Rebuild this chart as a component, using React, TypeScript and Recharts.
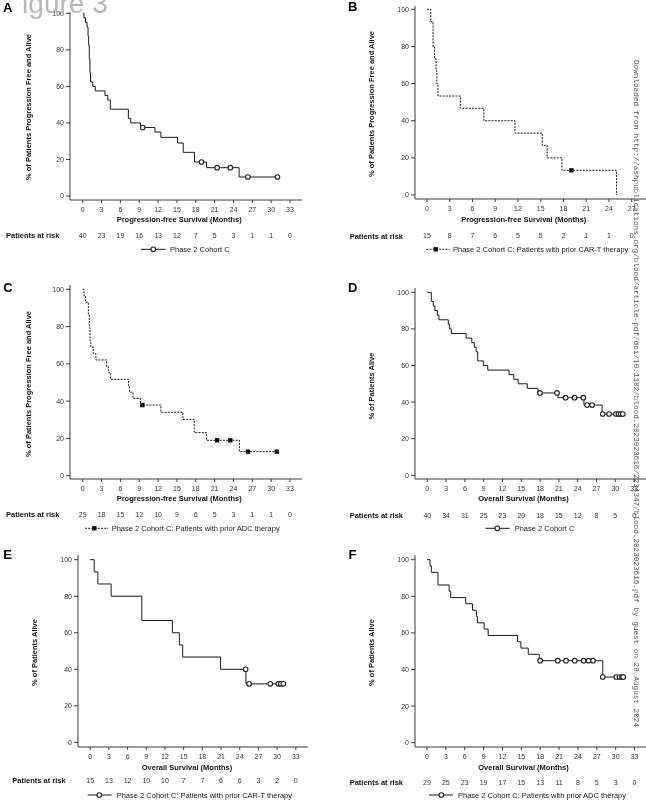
import React from 'react';
import { ComposedChart, Line, Scatter, XAxis, YAxis } from 'recharts';

// ---------- tick labels ----------
const monthTicks = [0, 3, 6, 9, 12, 15, 18, 21, 24, 27, 30, 33];
const monthTicksB = [0, 3, 6, 9, 12, 15, 18, 21, 24, 27];
const pctTicks = [0, 20, 40, 60, 80, 100];

// ---------- patients at risk ----------
const riskA = [40, 23, 19, 16, 13, 12, 7, 5, 3, 1, 1, 0];
const riskB = [15, 8, 7, 6, 5, 5, 2, 1, 1, 0];
const riskC = [29, 18, 15, 12, 10, 9, 6, 5, 3, 1, 1, 0];
const riskD = [40, 34, 31, 25, 23, 20, 18, 15, 12, 8, 5, 0];
const riskE = [15, 13, 12, 10, 10, 7, 7, 6, 6, 3, 2, 0];
const riskF = [29, 25, 23, 19, 17, 15, 13, 11, 8, 5, 3, 0];

// ---------- A: PFS, Phase 2 Cohort C ----------
const aTimes = [0, 0.2, 0.45, 0.7, 0.85, 0.95, 1.05, 1.15, 1.25, 1.6, 2.0, 3.55, 4.0, 4.4, 7.27, 7.65, 9.2, 11.5, 12.45, 15.1, 16.0, 17.8, 19.7, 24.9, 31.0];
const aSurv = [100, 97.5, 95, 92.5, 87.5, 82.5, 75, 67.5, 62.5, 60, 57.5, 55, 52.5, 47.5, 42.5, 40, 37.5, 35, 32.1, 29.0, 23.9, 18.6, 15.5, 10.4, 10.4];
const aCensTimes = [9.55, 18.9, 21.4, 23.5, 26.3, 31.0];
const aCensSurv = [37.5, 18.6, 15.5, 15.5, 10.4, 10.4];

// ---------- B: PFS, prior CAR-T ----------
const bTimes = [0, 0.5, 0.8, 1.0, 1.2, 1.3, 1.45, 4.4, 7.5, 11.6, 15.2, 15.85, 17.8, 25.0];
const bSurv = [100, 93.3, 80, 73.3, 66.7, 60, 53.3, 46.7, 40, 33.3, 26.7, 20, 13.3, 0];
const bCensTimes = [19.05];
const bCensSurv = [13.3];

// ---------- C: PFS, prior ADC ----------
const cTimes = [0, 0.2, 0.45, 0.9, 1.05, 1.17, 1.3, 1.7, 2.1, 3.8, 4.1, 4.45, 7.3, 7.45, 8.0, 9.2, 12.45, 15.95, 17.75, 19.7, 24.95, 30.9];
const cSurv = [100, 96.6, 93.1, 86.2, 79.3, 72.4, 69.0, 65.5, 62.1, 58.6, 55.2, 51.7, 48.3, 44.8, 41.4, 37.9, 34.0, 30.2, 23.1, 19.0, 12.9, 12.9];
const cCensTimes = [9.5, 21.4, 23.5, 26.3, 30.9];
const cCensSurv = [37.9, 19.0, 19.0, 12.9, 12.9];

// ---------- D: OS, Phase 2 Cohort C ----------
const dTimes = [0, 0.64, 0.96, 1.22, 1.6, 1.86, 3.35, 3.56, 3.83, 6.2, 7.1, 7.5, 7.8, 8.05, 8.95, 9.65, 13.05, 13.8, 14.5, 15.96, 17.66, 20.85, 25.0, 27.9, 31.2];
const dSurv = [100, 95, 92.5, 90, 87.5, 85, 82.5, 80, 77.5, 75, 72.5, 70, 67.5, 62.5, 60, 57.5, 55, 52.5, 50, 47.5, 45, 42.4, 38.4, 33.5, 33.5];
const dCensTimes = [17.98, 20.7, 22.07, 23.5, 24.9, 25.5, 26.3, 28.0, 29.0, 30.1, 30.5, 30.85, 31.2];
const dCensSurv = [45, 45, 42.4, 42.4, 42.4, 38.4, 38.4, 33.5, 33.5, 33.5, 33.5, 33.5, 33.5];

// ---------- E: OS, prior CAR-T ----------
const eTimes = [0, 0.64, 1.23, 3.36, 8.28, 13.19, 14.31, 14.84, 20.93, 25.0, 31.0];
const eSurv = [100, 93.3, 86.7, 80, 66.7, 60, 53.3, 46.7, 40, 32, 32];
const eCensTimes = [24.95, 25.5, 28.9, 30.2, 30.6, 31.0];
const eCensSurv = [40, 32, 32, 32, 32, 32];

// ---------- F: OS, prior ADC ----------
const fTimes = [0, 0.48, 0.69, 1.75, 3.51, 3.77, 6.16, 7.23, 7.86, 8.02, 9.09, 9.72, 14.4, 14.93, 16.1, 17.85, 27.95, 31.2];
const fSurv = [100, 96.6, 93.1, 86.2, 82.8, 79.3, 75.9, 72.4, 69.0, 65.5, 62.1, 58.6, 55.2, 51.7, 48.3, 44.8, 35.9, 35.9];
const fCensTimes = [18.0, 20.8, 22.1, 23.5, 24.9, 25.7, 26.4, 27.95, 30.1, 30.6, 31.0, 31.2];
const fCensSurv = [44.8, 44.8, 44.8, 44.8, 44.8, 44.8, 44.8, 35.9, 35.9, 35.9, 35.9, 35.9];

const toPoints = (t: number[], s: number[]) => t.map((v, i) => ({ t: v, s: s[i] }));

const FONT = '"Liberation Sans", Arial, Helvetica, sans-serif';
const INK = '#1a1a1a';
const AXIS = '#3a3a3a';

const YW = 40;
const MT = 6;
const H1 = 30;
const H2 = 16;

type Pt = { t: number; s: number };
type PanelProps = {
  left: number; right: number; top: number; bottom: number;
  xDomain: [number, number]; yDomain: [number, number];
  ticks: number[]; risk: number[]; riskMargin: number;
  curve: Pt[]; cens: Pt[]; dashed?: boolean; marker: 'circle' | 'square';
};

const CircleMark = (props: any) => (
  <circle cx={props.cx} cy={props.cy} r={2.3} fill="#fff" stroke="#222" strokeWidth={1.1} />
);
const SquareMark = (props: any) => (
  <rect x={props.cx - 2.2} y={props.cy - 2.2} width={4.4} height={4.4} fill="#111" />
);

function Panel(p: PanelProps) {
  const w = YW + (p.right - p.left);
  const h = MT + (p.bottom - p.top) + H1 + H2;
  return (
    <div style={{ position: 'absolute', left: p.left - YW, top: p.top - MT, width: w, height: h, willChange: 'transform' }}>
      <ComposedChart width={w} height={h} margin={{ top: MT, right: 0, bottom: 0, left: 0 }} style={{ fontFamily: FONT }}>
        <XAxis
          xAxisId="m" dataKey="t" type="number" domain={p.xDomain} allowDataOverflow
          ticks={p.ticks} interval={0} height={H1} tickSize={3} tickMargin={4}
          stroke={AXIS} tick={{ fontSize: 7, fill: '#333', fontFamily: FONT }}
        />
        <XAxis
          xAxisId="r" dataKey="t" type="number" domain={p.xDomain} allowDataOverflow
          ticks={p.ticks} interval={0} height={H2} axisLine={false} tickLine={false}
          tickSize={0} tickMargin={p.riskMargin}
          tick={{ fontSize: 7, fill: '#333', fontFamily: FONT }}
          tickFormatter={(v: number) => String(p.risk[p.ticks.indexOf(v)] ?? '')}
        />
        <YAxis
          dataKey="s" type="number" domain={p.yDomain} allowDataOverflow ticks={pctTicks}
          interval={0} width={YW} tickSize={4} tickMargin={2} stroke={AXIS}
          tick={{ fontSize: 7, fill: '#333', fontFamily: FONT }}
        />
        <Line
          xAxisId="r" data={p.curve} dataKey="s" stroke="none" dot={false} activeDot={false}
          isAnimationActive={false} legendType="none"
        />
        <Line
          xAxisId="m" data={p.curve} dataKey="s" type="stepAfter" stroke={INK} strokeWidth={1}
          strokeDasharray={p.dashed ? '2 1.2' : undefined} dot={false} activeDot={false}
          isAnimationActive={false}
        />
        <Scatter
          xAxisId="m" data={p.cens} dataKey="s" isAnimationActive={false}
          shape={p.marker === 'circle' ? CircleMark : SquareMark}
        />
      </ComposedChart>
    </div>
  );
}

type LegendProps = { x1: number; x2: number; y: number; mx: number; tx: number; ty: number; dashed?: boolean; marker: 'circle' | 'square'; label: string };
function LegendItem(l: LegendProps) {
  return (
    <g>
      <line x1={l.x1} x2={l.x2} y1={l.y} y2={l.y} stroke={INK} strokeWidth={1} strokeDasharray={l.dashed ? '2 1.2' : undefined} />
      {l.marker === 'circle'
        ? <circle cx={l.mx} cy={l.y} r={2.3} fill="#fff" stroke="#222" strokeWidth={1.1} />
        : <rect x={l.mx - 2.2} y={l.y - 2.2} width={4.4} height={4.4} fill="#111" />}
      <text x={l.tx} y={l.ty} fontSize={7.5} fill="#222">{l.label}</text>
    </g>
  );
}

const YLab = ({ x, y, text }: { x: number; y: number; text: string }) => (
  <text x={x} y={y} transform={`rotate(-90 ${x} ${y})`} textAnchor="middle" dominantBaseline="central" fontSize={7.5} fontWeight="bold" fill="#111">{text}</text>
);
const XLab = ({ x, y, text }: { x: number; y: number; text: string }) => (
  <text x={x} y={y} textAnchor="middle" fontSize={7.5} fontWeight="bold" fill="#111">{text}</text>
);
const Risk = ({ x, y }: { x: number; y: number }) => (
  <text x={x} y={y} fontSize={7.5} fontWeight="bold" fill="#111">Patients at risk</text>
);
const Letter = ({ x, y, t }: { x: number; y: number; t: string }) => (
  <text x={x} y={y} fontSize={13} fontWeight="bold" fill="#000">{t}</text>
);

const PFS = 'Progression-free Survival (Months)';
const OS = 'Overall Survival (Months)';
const YPFS = '% of Patients Progression Free and Alive';
const YOS = '% of Patients Alive';
const WATERMARK = 'Downloaded from http://ashpublications.org/blood/article-pdf/doi/10.1182/blood.2023023616/2234347/blood.2023023616.pdf by guest on 28 August 2024';

export default function App() {
  return (
    <div style={{ position: 'absolute', left: 0, top: 0, width: 646, height: 804, overflow: 'hidden', background: '#fff', fontFamily: FONT }}>
      <Panel left={70} right={302} top={12} bottom={200} xDomain={[-2.02, 34.91]} yDomain={[-2.19, 100.71]}
        ticks={monthTicks} risk={riskA} riskMargin={2.6} curve={toPoints(aTimes, aSurv)} cens={toPoints(aCensTimes, aCensSurv)} marker="circle" />
      <Panel left={415} right={650} top={6} bottom={199} xDomain={[-1.58, 29.41]} yDomain={[-2.15, 101.78]}
        ticks={monthTicksB} risk={riskB} riskMargin={4.3} curve={toPoints(bTimes, bSurv)} cens={toPoints(bCensTimes, bCensSurv)} dashed marker="square" />
      <Panel left={70} right={302} top={285} bottom={479} xDomain={[-2.02, 34.91]} yDomain={[-1.77, 102.31]}
        ticks={monthTicks} risk={riskC} riskMargin={2.7} curve={toPoints(cTimes, cSurv)} cens={toPoints(cCensTimes, cCensSurv)} dashed marker="square" />
      <Panel left={415} right={650} top={288} bottom={479} xDomain={[-1.96, 35.54]} yDomain={[-2.02, 102.35]}
        ticks={monthTicks} risk={riskD} riskMargin={4.3} curve={toPoints(dTimes, dSurv)} cens={toPoints(dCensTimes, dCensSurv)} marker="circle" />
      <Panel left={78} right={308} top={555} bottom={747} xDomain={[-1.96, 34.96]} yDomain={[-2.57, 102.57]}
        ticks={monthTicks} risk={riskE} riskMargin={0.8} curve={toPoints(eTimes, eSurv)} cens={toPoints(eCensTimes, eCensSurv)} marker="circle" />
      <Panel left={415} right={650} top={555} bottom={747} xDomain={[-1.91, 35.46]} yDomain={[-2.35, 102.57]}
        ticks={monthTicks} risk={riskF} riskMargin={3.0} curve={toPoints(fTimes, fSurv)} cens={toPoints(fCensTimes, fCensSurv)} marker="circle" />

      <svg width={646} height={804} style={{ position: 'absolute', left: 0, top: 0, pointerEvents: 'none', willChange: 'transform' }} fontFamily={FONT}>
        <text x={5} y={12.5} fontSize={28} fill="#b8b8b8">Figure 3</text>
        <rect x={0} y={0} width={20.5} height={16} fill="#fff" />
        <Letter x={3} y={12} t="A" />
        <Letter x={348} y={11} t="B" />
        <Letter x={3.3} y={291.7} t="C" />
        <Letter x={348} y={291.7} t="D" />
        <Letter x={3.3} y={559.3} t="E" />
        <Letter x={348.5} y={559.3} t="F" />

        <YLab x={28.5} y={107} text={YPFS} />
        <YLab x={371.3} y={104} text={YPFS} />
        <YLab x={28.5} y={384} text={YPFS} />
        <YLab x={371.3} y={386} text={YOS} />
        <YLab x={34.3} y={652.5} text={YOS} />
        <YLab x={371.3} y={652.5} text={YOS} />

        <XLab x={179.2} y={222.4} text={PFS} />
        <XLab x={523.8} y={221.6} text={PFS} />
        <XLab x={179.2} y={501.4} text={PFS} />
        <XLab x={523.5} y={501.4} text={OS} />
        <XLab x={187} y={769.7} text={OS} />
        <XLab x={523.5} y={769.7} text={OS} />

        <Risk x={6} y={238} />
        <Risk x={349.7} y={238.5} />
        <Risk x={6} y={516.5} />
        <Risk x={349.7} y={518} />
        <Risk x={12.3} y={782.5} />
        <Risk x={349.7} y={784.5} />

        <LegendItem x1={141} x2={165.7} y={249.3} mx={153.3} tx={170} ty={252} marker="circle" label="Phase 2 Cohort C" />
        <LegendItem x1={426.3} x2={449.7} y={249.3} mx={435.7} tx={453} ty={252} dashed marker="square" label="Phase 2 Cohort C: Patients with prior CAR-T therapy" />
        <LegendItem x1={85} x2={108.3} y={528.3} mx={94.3} tx={111.7} ty={531} dashed marker="square" label="Phase 2 Cohort C: Patients with prior ADC therapy" />
        <LegendItem x1={485.3} x2={509.7} y={528.3} mx={497.3} tx={514.7} ty={531} marker="circle" label="Phase 2 Cohort C" />
        <LegendItem x1={87.7} x2={111.7} y={795} mx={99.3} tx={116.7} ty={797.5} marker="circle" label="Phase 2 Cohort C: Patients with prior CAR-T therapy" />
        <LegendItem x1={429} x2={453} y={795} mx={441.3} tx={458} ty={797.5} marker="circle" label="Phase 2 Cohort C: Patients with prior ADC therapy" />

        <text x={634} y={60} transform="rotate(90 634 60)" fontSize={8} fill="#555"
          fontFamily='"Liberation Mono", "DejaVu Sans Mono", monospace'
          textLength={667} lengthAdjust="spacingAndGlyphs">{WATERMARK}</text>
      </svg>
    </div>
  );
}
